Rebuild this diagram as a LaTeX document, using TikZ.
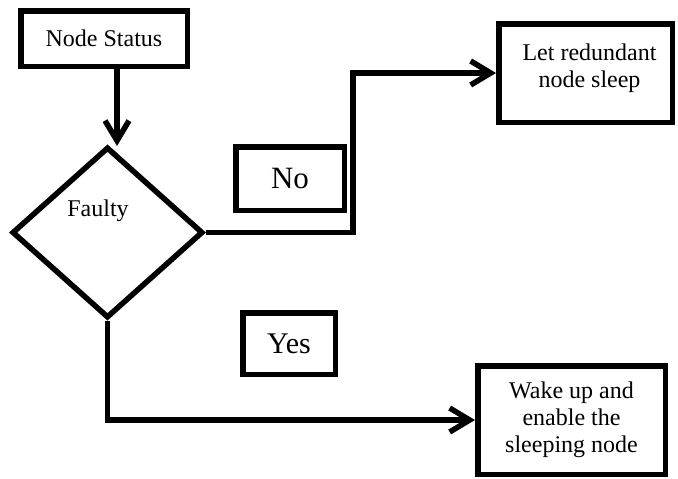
\documentclass[tikz,border=0pt]{standalone}
\usepackage{fontspec}
\setmainfont{Liberation Serif}
\usetikzlibrary{shapes.geometric,arrows.meta}
\begin{document}
\begin{tikzpicture}[x=1pt,y=-1pt,
  box/.style={draw, line width=5.5pt, inner sep=0pt, align=center,
              font=\fontsize{24}{27}\selectfont},
  flow/.style={line width=5.5pt, -{Straight Barb[length=20pt,width=24pt]}},
  txt/.style={font=\fontsize{24}{27}\selectfont, inner sep=0pt}]
\useasboundingbox (0,0) rectangle (678,479);

% start and decision
\node[box, minimum width=166.5pt, minimum height=55.5pt] (status) at (104,38.5) {Node Status};
\node[box, shape=diamond, minimum width=191pt, minimum height=171pt] (faulty) at (107.5,232.5) {};
\node[txt] (faultylbl) at (98,211) {Faulty};

% branch labels
\node[box, font=\fontsize{31}{36}\selectfont, minimum width=108.5pt, minimum height=63.5pt] (no) at (290,178.5) {No};
\node[box, font=\fontsize{30}{35}\selectfont, minimum width=92.5pt, minimum height=61.5pt] (yes) at (289,343.5) {Yes};

% outcomes
\node[box, minimum width=173.5pt, minimum height=98.5pt,
      label={[txt, align=center, xshift=4pt, yshift=5pt]center:Let redundant\\node sleep}] (sleep) at (585.5,73) {};
\node[box, minimum width=187.5pt, minimum height=108.5pt] (wake) at (571.5,420) {Wake up and\\enable the\\sleeping node};

% connectors
\coordinate (drop) at (117,146);
\coordinate (noturn) at (353,73);
\draw[flow] (status.south -| drop) -- (drop);
\draw[flow] (faulty.east) -| (noturn) -- (sleep.west);
\draw[flow] (faulty.south) |- (wake.west);
\end{tikzpicture}
\end{document}
